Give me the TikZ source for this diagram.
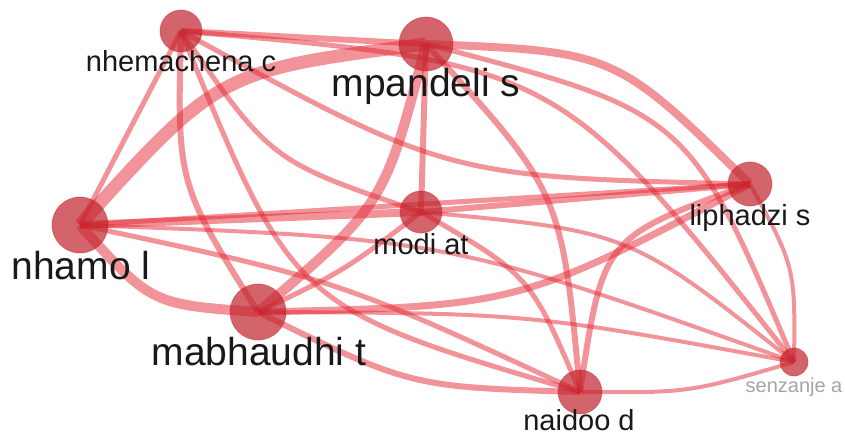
\documentclass[tikz,border=0pt]{standalone}
\usepackage{fontspec}
\setmainfont{Liberation Sans}
\usetikzlibrary{calc}
\pgfdeclarelayer{bg}
\pgfsetlayers{bg,main}
\definecolor{edgecol}{RGB}{228,40,50}
\definecolor{nodecol}{RGB}{195,35,45}
\definecolor{txtcol}{RGB}{25,25,25}
\definecolor{faintcol}{RGB}{165,165,165}
\newcommand\edg[4]{\draw[edgeline,line width=#3pt] (#1.center) .. controls ($(#1.center)!0.5!(#2.center)!#4pt!-90:(#2.center)$) .. (#2.center);}
\begin{document}
\begin{tikzpicture}[x=1pt,y=-1pt,
  edgeline/.style={draw=edgecol, draw opacity=0.5},
  vnode/.style={circle, inner sep=0pt, fill=nodecol, fill opacity=0.7, draw=nodecol, draw opacity=0.45, line width=0.8pt},
  lab/.style={anchor=base, text=txtcol, inner sep=0pt}]
\useasboundingbox (0,0) rectangle (845,441);
% vertices
\node[vnode, minimum size=42pt] (C) at (181,31) {};
\node[vnode, minimum size=54pt] (M) at (426,44) {};
\node[vnode, minimum size=56pt] (N) at (80,225) {};
\node[vnode, minimum size=56pt] (T) at (258,312) {};
\node[vnode, minimum size=42pt] (A) at (421,212) {};
\node[vnode, minimum size=44pt] (L) at (750,184) {};
\node[vnode, minimum size=28pt] (S) at (794,362) {};
\node[vnode, minimum size=44pt] (D) at (580,392) {};
% labels
\node[lab, font=\fontsize{29}{29}\selectfont] (tC) at (181,72) {nhemachena c};
\node[lab, font=\fontsize{39}{39}\selectfont] (tM) at (426,97) {mpandeli s};
\node[lab, font=\fontsize{39}{39}\selectfont] (tN) at (81,279) {nhamo l};
\node[lab, font=\fontsize{39}{39}\selectfont] (tT) at (259,365) {mabhaudhi t};
\node[lab, font=\fontsize{29}{29}\selectfont] (tA) at (421,254) {modi at};
\node[lab, font=\fontsize{29}{29}\selectfont] (tL) at (750,225) {liphadzi s};
\node[lab, font=\fontsize{20}{20}\selectfont, text=faintcol] (tS) at (794,392) {senzanje a};
\node[lab, font=\fontsize{29}{29}\selectfont] (tD) at (579,430) {naidoo d};
% links
\begin{pgfonlayer}{bg}
\fill[white] (0,0) rectangle (845,441);
\edg{C}{M}{6}{0}
\edg{C}{N}{5}{0}
\edg{C}{T}{6}{44}
\edg{C}{A}{5}{50}
\edg{C}{L}{5}{72}
\edg{C}{S}{5}{-150}
\edg{C}{D}{5}{130}
\edg{M}{N}{13}{72}
\edg{T}{M}{10}{50}
\edg{M}{A}{6}{0}
\edg{M}{L}{8}{-68}
\edg{M}{S}{5}{-120}
\edg{M}{D}{6}{-64}
\edg{N}{T}{10}{40}
\edg{N}{A}{8}{0}
\edg{N}{L}{5}{0}
\edg{N}{S}{4}{-56}
\edg{N}{D}{5}{-30}
\edg{T}{A}{5}{10}
\edg{T}{L}{7}{60}
\edg{T}{S}{4}{-24}
\edg{T}{D}{6}{36}
\edg{A}{L}{6}{0}
\edg{A}{S}{4}{-60}
\edg{A}{D}{5}{-40}
\edg{L}{S}{4}{-24}
\edg{L}{D}{6}{80}
\edg{D}{S}{4}{16}
\end{pgfonlayer}
\end{tikzpicture}
\end{document}
